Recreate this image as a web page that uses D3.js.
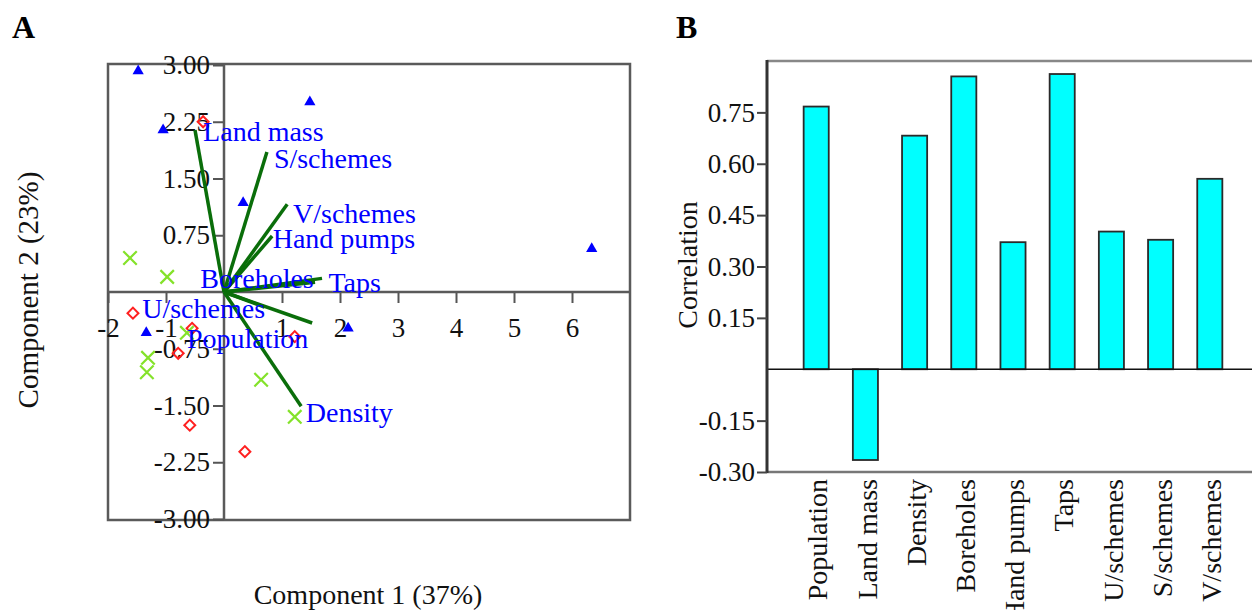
<!DOCTYPE html>
<html>
<head>
<meta charset="utf-8">
<script src="https://cdn.jsdelivr.net/npm/d3@7"></script>
<style>
    body { margin: 0; background: #fff; }
    svg { font-family: "Liberation Serif", "Times New Roman", serif; }
</style>
</head>
<body>
<svg id="chart" width="1252" height="610"></svg>
<script>
// --- panel A: PCA scores (component 1, component 2) per group
const scoresTriangle = [[-1.48, 2.92], [-1.05, 2.14], [1.48, 2.51], [0.33, 1.18], [6.34, 0.57], [2.14, -0.48], [-1.34, -0.54]];
const scoresDiamond = [[-0.36, 2.25], [-1.57, -0.28], [-0.55, -0.48], [-0.79, -0.81], [1.22, -0.59], [-0.59, -1.76], [0.36, -2.11]];
const scoresCross = [[-1.62, 0.45], [-0.98, 0.20], [-0.64, -0.54], [-1.31, -0.87], [-1.33, -1.06], [0.64, -1.16], [1.22, -1.65]];

// loading vectors and where their names sit (data units)
const loadingNames = ["Land mass", "S/schemes", "V/schemes", "Hand pumps", "Taps", "Boreholes", "U/schemes", "Population", "Density"];
const loadingX = [-0.50, 0.74, 1.09, 0.83, 1.69, 1.57, 0.70, 1.52, 1.33];
const loadingY = [2.14, 1.85, 1.16, 0.74, 0.18, 0.13, -0.20, -0.41, -1.51];
const labelX = [-0.36, 0.86, 1.19, 0.84, 1.80, -0.41, -1.41, -0.64, 1.41];
const labelY = [1.99, 1.64, 0.91, 0.58, 0.0, 0.05, -0.34, -0.74, -1.72];

const pcXTicks = [-2, -1, 1, 2, 3, 4, 5, 6];
const pcYTicks = [-3, -2.25, -1.5, -0.75, 0.75, 1.5, 2.25, 3];

// --- panel B: correlation of each variable
const variables = ["Population", "Land mass", "Density", "Boreholes", "Hand pumps", "Taps", "U/schemes", "S/schemes", "V/schemes"];
const correlations = [0.767, -0.265, 0.682, 0.855, 0.371, 0.862, 0.402, 0.378, 0.556];
const corrTicks = [-0.30, -0.15, 0.15, 0.30, 0.45, 0.60, 0.75];

const svg = d3.select("#chart");
const fmt = f => d => d3.format(f)(d).replace("\u2212", "-");

// ================= Panel A =================
const x = d3.scaleLinear().domain([-2, 7]).range([108, 630]);
const y = d3.scaleLinear().domain([-3, 3]).range([519, 65]);

const gA = svg.append("g");

gA.append("rect")
    .attr("x", x(-2)).attr("y", y(3) - 1)
    .attr("width", x(7) - x(-2)).attr("height", y(-3) - y(3) + 2)
    .attr("fill", "none").attr("stroke", "#5a5a5a").attr("stroke-width", 2.5);

const xAxisA = gA.append("g")
    .attr("transform", `translate(0,${y(0)})`)
    .call(d3.axisBottom(x).tickValues(pcXTicks).tickSize(11).tickPadding(15).tickFormat(fmt("d")));
const yAxisA = gA.append("g")
    .attr("transform", `translate(${x(0)},0)`)
    .call(d3.axisLeft(y).tickValues(pcYTicks).tickSize(11).tickPadding(3).tickFormat(fmt(".2f")));

[xAxisA, yAxisA].forEach(g => {
    g.select(".domain").remove();
    g.selectAll("line").attr("stroke", "#555").attr("stroke-width", 2);
    g.selectAll("text").attr("font-size", 27).attr("font-family", "Liberation Serif").attr("fill", "#111");
});

// zero lines
gA.append("line")
    .attr("x1", x(-2)).attr("x2", x(7)).attr("y1", y(0)).attr("y2", y(0))
    .attr("stroke", "#5a5a5a").attr("stroke-width", 2.5);
gA.append("line")
    .attr("x1", x(0)).attr("x2", x(0)).attr("y1", y(3)).attr("y2", y(-3))
    .attr("stroke", "#5a5a5a").attr("stroke-width", 2.5);

// score markers
gA.selectAll(".tri")
    .data(scoresTriangle)
    .join("path")
    .attr("class", "tri")
    .attr("d", d3.symbol().type(d3.symbolTriangle).size(55))
    .attr("transform", d => `translate(${x(d[0])},${y(d[1])})`)
    .attr("fill", "#0000ff");

gA.selectAll(".dia")
    .data(scoresDiamond)
    .join("path")
    .attr("class", "dia")
    .attr("d", d3.symbol().type(d3.symbolSquare).size(60))
    .attr("transform", d => `translate(${x(d[0])},${y(d[1])}) rotate(45)`)
    .attr("fill", "none").attr("stroke", "#ff2020").attr("stroke-width", 2);

gA.selectAll(".crs")
    .data(scoresCross)
    .join("path")
    .attr("class", "crs")
    .attr("d", d3.symbol().type(d3.symbolTimes || d3.symbolCross).size(120))
    .attr("transform", d => `translate(${x(d[0])},${y(d[1])})`)
    .attr("fill", "none").attr("stroke", "#84e22a").attr("stroke-width", 2.2);

// loading vectors
gA.selectAll(".load")
    .data(loadingNames)
    .join("line")
    .attr("class", "load")
    .attr("x1", x(0)).attr("y1", y(0))
    .attr("x2", (d, i) => x(loadingX[i]))
    .attr("y2", (d, i) => y(loadingY[i]))
    .attr("stroke", "#0a6e0a").attr("stroke-width", 3.5);

gA.selectAll(".loadlabel")
    .data(loadingNames)
    .join("text")
    .attr("class", "loadlabel")
    .attr("x", (d, i) => x(labelX[i]))
    .attr("y", (d, i) => y(labelY[i]))
    .attr("font-size", 28)
    .attr("fill", "#0000ff")
    .text(d => d);

gA.append("text")
    .attr("x", 368).attr("y", 604)
    .attr("text-anchor", "middle").attr("font-size", 28).attr("fill", "#111")
    .text("Component 1 (37%)");

gA.append("text")
    .attr("transform", "translate(38,290) rotate(-90)")
    .attr("text-anchor", "middle").attr("font-size", 29).attr("fill", "#111")
    .text("Component 2 (23%)");

gA.append("text")
    .attr("x", 12).attr("y", 38)
    .attr("font-size", 32).attr("font-weight", "bold")
    .text("A");

// ================= Panel B =================
const xB = d3.scaleBand()
    .domain(variables)
    .range([767, 1259])
    .paddingInner(0.49)
    .paddingOuter(0.745);
const yB = d3.scaleLinear().domain([-0.3, 0.9]).range([472, 61]);

const gB = svg.append("g");

gB.selectAll(".bar")
    .data(variables)
    .join("rect")
    .attr("class", "bar")
    .attr("x", d => xB(d))
    .attr("width", xB.bandwidth())
    .attr("y", (d, i) => yB(Math.max(0, correlations[i])))
    .attr("height", (d, i) => Math.abs(yB(correlations[i]) - yB(0)))
    .attr("fill", "#00ffff").attr("stroke", "#2a2a2a").attr("stroke-width", 1.8);

// frame
gB.append("line")
    .attr("x1", 767).attr("x2", 1252).attr("y1", yB(0.9)).attr("y2", yB(0.9))
    .attr("stroke", "#888").attr("stroke-width", 2.5);
gB.append("line")
    .attr("x1", 767).attr("x2", 1252).attr("y1", yB(-0.3)).attr("y2", yB(-0.3))
    .attr("stroke", "#777").attr("stroke-width", 2.5);
gB.append("line")
    .attr("x1", 767).attr("x2", 1252).attr("y1", yB(0)).attr("y2", yB(0))
    .attr("stroke", "#111").attr("stroke-width", 1.6);

const yAxisB = gB.append("g")
    .attr("transform", "translate(767,0)")
    .call(d3.axisLeft(yB).tickValues(corrTicks).tickSize(10).tickPadding(2).tickFormat(fmt(".2f")));
yAxisB.select(".domain").attr("stroke", "#333").attr("stroke-width", 3)
    .attr("d", `M0,${yB(0.9) - 1}V${yB(-0.3) + 1}`);
yAxisB.selectAll("line").attr("stroke", "#444").attr("stroke-width", 2);
yAxisB.selectAll("text").attr("font-size", 27).attr("font-family", "Liberation Serif").attr("fill", "#111");

gB.selectAll(".catlabel")
    .data(variables)
    .join("text")
    .attr("class", "catlabel")
    .attr("transform", d => `translate(${xB(d) + xB.bandwidth() / 2},479) rotate(-90)`)
    .attr("dy", "0.4em")
    .attr("text-anchor", "end")
    .attr("font-size", 28).attr("fill", "#111")
    .text(d => d);

gB.append("text")
    .attr("transform", "translate(697,265) rotate(-90)")
    .attr("text-anchor", "middle").attr("font-size", 28).attr("fill", "#111")
    .text("Correlation");

gB.append("text")
    .attr("x", 676).attr("y", 38)
    .attr("font-size", 32).attr("font-weight", "bold")
    .text("B");
</script>
</body>
</html>
